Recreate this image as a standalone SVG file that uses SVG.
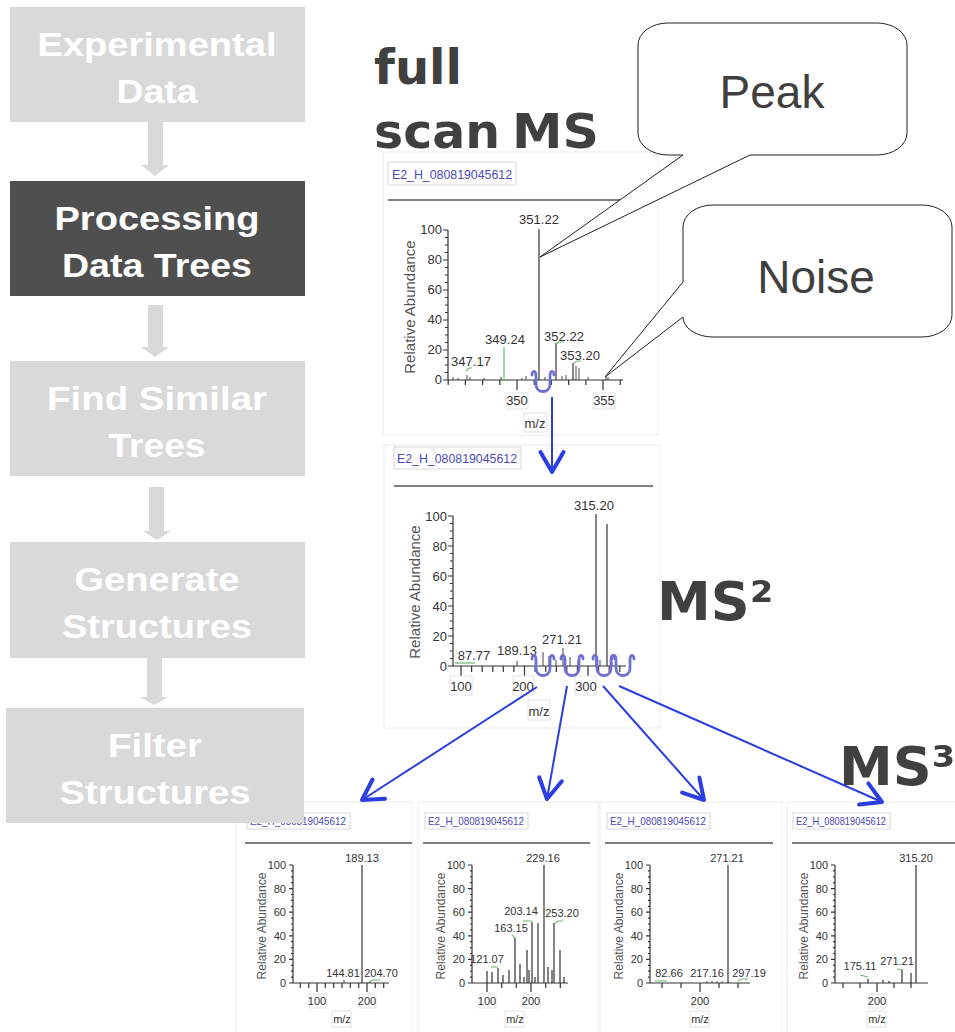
<svg xmlns="http://www.w3.org/2000/svg" xmlns:xlink="http://www.w3.org/1999/xlink" width="955" height="1032" viewBox="0 0 955 1032">
<style>
.bl{fill:#d9d9d9}
.bd{fill:#4f4f4f}
.st{font-family:"Liberation Sans",Arial,sans-serif;font-weight:bold;font-size:33px;fill:#fff;text-anchor:middle}
.sa{fill:#d9d9d9}
.hd{font-family:"DejaVu Sans",Verdana,sans-serif;font-weight:bold;fill:#404040}
.co{fill:#fff;stroke:#222;stroke-width:1}
.ct{font-family:"Liberation Sans",Arial,sans-serif;font-size:46px;fill:#404040;text-anchor:middle}
.pn{fill:#fff;stroke:#ececec}
.tb{fill:#fff;stroke:#d8d8d8}
.lb{fill:none;stroke:#dcdcdc;stroke-width:0.8}
.tt{font-family:"Liberation Sans",Arial,sans-serif;fill:#4a4ab8}
.hl{stroke:#555;stroke-width:1.5}
.ax{stroke:#333;stroke-width:1.2;fill:none}
.t13{font-family:"Liberation Sans",Arial,sans-serif;font-size:13px;fill:#333;text-anchor:middle}
.t11{font-family:"Liberation Sans",Arial,sans-serif;font-size:11px;fill:#333;text-anchor:middle}
.yl13{font-family:"Liberation Sans",Arial,sans-serif;font-size:13px;fill:#333;text-anchor:end}
.yl11{font-family:"Liberation Sans",Arial,sans-serif;font-size:11px;fill:#333;text-anchor:end}
.ra{font-family:"Liberation Sans",Arial,sans-serif;fill:#555;text-anchor:middle}
.pk{stroke:#333;stroke-width:1.2;fill:none}
.ns{stroke:#444;stroke-width:1;fill:none}
.gr{stroke:#6cb86c;stroke-width:1.2;fill:none}
.cu{stroke:#6e70d2;stroke-width:2.8;fill:none;stroke-linecap:round}
.cn{stroke:#2b3ee0;stroke-width:2;fill:none}
</style>
<defs>
<marker id="ah" markerUnits="userSpaceOnUse" viewBox="-24 -15 28 30" refX="0" refY="0" markerWidth="28" markerHeight="30" orient="auto" overflow="visible">
<path d="M-20 -11.5L0 0L-20 11.5" fill="none" stroke="#2b3ee0" stroke-width="4" stroke-linecap="round" stroke-linejoin="round"/>
</marker>
<path id="ytB" class="ax" d="M0 0V-150M-5 0h5m-5 -30h5m-5 -30h5m-5 -30h5m-5 -30h5m-5 -30h5M-3 0m0 -7.5h3m-3 -7.5h3m-3 -7.5h3m-3 -7.5h3m-3 -7.5h3m-3 -7.5h3m-3 -7.5h3m-3 -7.5h3m-3 -7.5h3m-3 -7.5h3m-3 -7.5h3m-3 -7.5h3m-3 -7.5h3m-3 -7.5h3m-3 -7.5h3m-3 -7.5h3m-3 -7.5h3m-3 -7.5h3m-3 -7.5h3"/>
<path id="ytS" class="ax" d="M0 0V-118M-4 0h4m-4 -23.6h4m-4 -23.6h4m-4 -23.6h4m-4 -23.6h4m-4 -23.6h4M-2 0m0 -5.9h2m-2 -5.9h2m-2 -5.9h2m-2 -5.9h2m-2 -5.9h2m-2 -5.9h2m-2 -5.9h2m-2 -5.9h2m-2 -5.9h2m-2 -5.9h2m-2 -5.9h2m-2 -5.9h2m-2 -5.9h2m-2 -5.9h2m-2 -5.9h2m-2 -5.9h2m-2 -5.9h2m-2 -5.9h2m-2 -5.9h2"/>
<path id="curl" class="cu" d="M-11 -7C-11 -12 -7 -12 -7 -6V2C-7 12 7 12 7 2V-6C7 -12 11 -12 11 -7"/>
</defs>

<!-- spectra panels -->
<g id="spec-fullscan">
<rect class="pn" x="383" y="152" width="275" height="283"/>
<rect class="tb" x="388" y="162" width="128" height="23"/>
<text class="tt" x="392" y="179" font-size="13" textLength="120" lengthAdjust="spacingAndGlyphs">E2_H_080819045612</text>
<line class="hl" x1="388" y1="200" x2="650" y2="200"/>
<use href="#ytB" x="448" y="380"/>
<text class="yl13" x="442" y="234">100</text>
<text class="yl13" x="442" y="264">80</text>
<text class="yl13" x="442" y="294">60</text>
<text class="yl13" x="442" y="324">40</text>
<text class="yl13" x="442" y="354">20</text>
<text class="yl13" x="442" y="384">0</text>
<text class="ra" font-size="15" transform="translate(415 307) rotate(-90)">Relative Abundance</text>
<path class="ax" d="M448 380H623M448.2 380v5M465.4 380v5M482.6 380v5M499.8 380v5M517 380v10M534.2 380v5M551.4 380v5M568.6 380v5M585.8 380v5M603 380v10M620.2 380v5"/>
<rect class="lb" x="506" y="393" width="22" height="16"/>
<rect class="lb" x="593" y="393" width="22" height="16"/>
<rect class="lb" x="524" y="413" width="23" height="19"/>
<text class="t13" x="517" y="405">350</text>
<text class="t13" x="604" y="405">355</text>
<text class="t13" x="535" y="428">m/z</text>
<path class="ns" d="M453 380v-3M458 380v-2M467 380v-5M470 380v-3M484 380v-2M501 380v-3M522 380v-2M526 380v-4M545 380v-3M562 380v-4M566 380v-5M576 380v-14M579 380v-12M588 380v-3M606 380v-4M608 380v-3"/>
<line class="pk" x1="539" y1="229" x2="539" y2="380"/>
<line class="pk" x1="556" y1="343" x2="556" y2="380"/>
<line class="pk" x1="573" y1="363" x2="573" y2="380"/>
<line class="gr" x1="504" y1="347" x2="504" y2="380"/>
<path class="gr" d="M466 371l3 -3h3M556 344l3 -2h5M574 363l3 -2h4"/>
<text class="t13" x="539" y="224">351.22</text>
<text class="t13" x="505" y="344">349.24</text>
<text class="t13" x="471" y="366">347.17</text>
<text class="t13" x="564" y="341">352.22</text>
<text class="t13" x="580" y="360">353.20</text>
<use href="#curl" x="543" y="382"/>
</g>

<g id="spec-ms2">
<rect class="pn" x="384" y="445" width="276" height="283"/>
<rect class="tb" x="394" y="447" width="127" height="22"/>
<text class="tt" x="397" y="463" font-size="13" textLength="120" lengthAdjust="spacingAndGlyphs">E2_H_080819045612</text>
<line class="hl" x1="394" y1="486" x2="653" y2="486"/>
<use href="#ytB" x="453" y="666"/>
<text class="yl13" x="447" y="521">100</text>
<text class="yl13" x="447" y="551">80</text>
<text class="yl13" x="447" y="581">60</text>
<text class="yl13" x="447" y="611">40</text>
<text class="yl13" x="447" y="641">20</text>
<text class="yl13" x="447" y="671">0</text>
<text class="ra" font-size="15" transform="translate(420 592) rotate(-90)">Relative Abundance</text>
<path class="ax" d="M453 666H626M461 666v10M471.6 666v6M482.2 666v6M492.8 666v6M503.3 666v6M513.9 666v6M524.5 666v10M535.1 666v6M545.7 666v6M556.3 666v6M566.8 666v6M577.4 666v6M588 666v10M598.6 666v6M609.2 666v6M619.8 666v6"/>
<rect class="lb" x="450" y="676" width="22" height="19"/>
<rect class="lb" x="513" y="676" width="21" height="19"/>
<rect class="lb" x="575" y="676" width="21" height="19"/>
<rect class="lb" x="528" y="700" width="22" height="20"/>
<text class="t13" x="461" y="691">100</text>
<text class="t13" x="523" y="691">200</text>
<text class="t13" x="586" y="691">300</text>
<text class="t13" x="539" y="716">m/z</text>
<path class="ns" d="M517 666v-5M543 666v-14M549 666v-10M556 666v-6M563 666v-18M570 666v-9M578 666v-6M600 666v-6M612 666v-4"/>
<line class="pk" x1="596" y1="514" x2="596" y2="666"/>
<line class="pk" x1="607" y1="524" x2="607" y2="666"/>
<path class="gr" d="M455 663h20"/>
<text class="t13" x="594" y="510">315.20</text>
<text class="t13" x="562" y="644">271.21</text>
<text class="t13" x="517" y="655">189.13</text>
<text class="t13" x="474" y="660">87.77</text>
<use href="#curl" x="543" y="666"/>
<use href="#curl" x="572" y="666"/>
<use href="#curl" x="604" y="666"/>
<use href="#curl" x="623" y="666"/>
</g>

<g id="spec-ms3-a">
<rect class="pn" x="236" y="802" width="176" height="232"/>
<rect class="tb" x="247" y="813" width="103" height="16"/>
<text class="tt" x="250" y="825" font-size="10.5" textLength="96" lengthAdjust="spacingAndGlyphs">E2_H_080819045612</text>
<line class="hl" x1="245" y1="843" x2="412" y2="843"/>
<use href="#ytS" x="293" y="983"/>
<text class="yl11" x="286" y="869">100</text>
<text class="yl11" x="286" y="893">80</text>
<text class="yl11" x="286" y="916">60</text>
<text class="yl11" x="286" y="940">40</text>
<text class="yl11" x="286" y="963">20</text>
<text class="yl11" x="286" y="987">0</text>
<text class="ra" font-size="12" transform="translate(266 926) rotate(-90)">Relative Abundance</text>
<path class="ax" d="M293 983H389M300.3 983v5M308.7 983v5M317 983v9M325.3 983v5M333.7 983v5M342 983v5M350.3 983v5M358.7 983v5M367 983v9M375.3 983v5M383.7 983v5"/>
<rect class="lb" x="309" y="994" width="17" height="14"/>
<rect class="lb" x="359" y="994" width="17" height="14"/>
<rect class="lb" x="332" y="1011" width="19" height="16"/>
<text class="t11" x="317" y="1005">100</text>
<text class="t11" x="367" y="1005">200</text>
<text class="t11" x="342" y="1023">m/z</text>
<line class="pk" x1="362" y1="865" x2="362" y2="983"/>
<path class="ns" d="M344 983v-3M370 983v-2"/>
<path class="gr" d="M369 982l4 -2h7"/>
<text class="t11" x="362" y="862">189.13</text>
<text class="t11" x="343" y="977">144.81</text>
<text class="t11" x="381" y="977">204.70</text>
</g>

<g id="spec-ms3-b">
<rect class="pn" x="418" y="802" width="180" height="232"/>
<rect class="tb" x="425" y="813" width="103" height="16"/>
<text class="tt" x="428" y="825" font-size="10.5" textLength="96" lengthAdjust="spacingAndGlyphs">E2_H_080819045612</text>
<line class="hl" x1="423" y1="843" x2="590" y2="843"/>
<use href="#ytS" x="472" y="983"/>
<text class="yl11" x="465" y="869">100</text>
<text class="yl11" x="465" y="893">80</text>
<text class="yl11" x="465" y="916">60</text>
<text class="yl11" x="465" y="940">40</text>
<text class="yl11" x="465" y="963">20</text>
<text class="yl11" x="465" y="987">0</text>
<text class="ra" font-size="12" transform="translate(445 926) rotate(-90)">Relative Abundance</text>
<path class="ax" d="M472 983H568M487 983v9M501.7 983v5M516.3 983v5M531 983v9M545.7 983v5M560.3 983v5"/>
<rect class="lb" x="479" y="994" width="17" height="14"/>
<rect class="lb" x="523" y="994" width="17" height="14"/>
<rect class="lb" x="505" y="1011" width="19" height="16"/>
<text class="t11" x="487" y="1005">100</text>
<text class="t11" x="531" y="1005">200</text>
<text class="t11" x="515" y="1023">m/z</text>
<path class="pk" d="M487 983v-12M492 983v-11M498 983v-15M503 983v-8M509 983v-13M515 983v-45M520 983v-19M524 983v-6M527 983v-33M529 983v-13M532 983v-61M535 983v-6M538 983v-60M544 983v-118M548 983v-16M552 983v-13M554 983v-60M560 983v-33M564 983v-6"/>
<path class="gr" d="M491 967h7M512 935l3 3M523 921h9M555 923l3 -2h5"/>
<text class="t11" x="543" y="862">229.16</text>
<text class="t11" x="521" y="915">203.14</text>
<text class="t11" x="562" y="917">253.20</text>
<text class="t11" x="511" y="932">163.15</text>
<text class="t11" x="487" y="963">121.07</text>
</g>

<g id="spec-ms3-c">
<rect class="pn" x="600" y="802" width="182" height="232"/>
<rect class="tb" x="607" y="813" width="103" height="16"/>
<text class="tt" x="610" y="825" font-size="10.5" textLength="96" lengthAdjust="spacingAndGlyphs">E2_H_080819045612</text>
<line class="hl" x1="605" y1="843" x2="773" y2="843"/>
<use href="#ytS" x="650" y="983"/>
<text class="yl11" x="643" y="869">100</text>
<text class="yl11" x="643" y="893">80</text>
<text class="yl11" x="643" y="916">60</text>
<text class="yl11" x="643" y="940">40</text>
<text class="yl11" x="643" y="963">20</text>
<text class="yl11" x="643" y="987">0</text>
<text class="ra" font-size="12" transform="translate(623 926) rotate(-90)">Relative Abundance</text>
<path class="ax" d="M650 983H750M662 983v5M681 983v5M700 983v9M719 983v5M738 983v5"/>
<rect class="lb" x="692" y="994" width="17" height="14"/>
<rect class="lb" x="690" y="1011" width="19" height="16"/>
<text class="t11" x="700" y="1005">200</text>
<text class="t11" x="700" y="1023">m/z</text>
<line class="pk" x1="728" y1="865" x2="728" y2="983"/>
<path class="ns" d="M707 983v-2M712 983v-2M717 983v-2M722 983v-2"/>
<path class="gr" d="M655 981h12M738 981l4 -2h6"/>
<text class="t11" x="727" y="862">271.21</text>
<text class="t11" x="669" y="977">82.66</text>
<text class="t11" x="707" y="977">217.16</text>
<text class="t11" x="749" y="977">297.19</text>
</g>

<g id="spec-ms3-d">
<rect class="pn" x="787" y="802" width="170" height="232"/>
<rect class="tb" x="793" y="813" width="97" height="16"/>
<text class="tt" x="796" y="825" font-size="10.5" textLength="90" lengthAdjust="spacingAndGlyphs">E2_H_080819045612</text>
<line class="hl" x1="792" y1="843" x2="955" y2="843"/>
<use href="#ytS" x="835" y="983"/>
<text class="yl11" x="828" y="869">100</text>
<text class="yl11" x="828" y="893">80</text>
<text class="yl11" x="828" y="916">60</text>
<text class="yl11" x="828" y="940">40</text>
<text class="yl11" x="828" y="963">20</text>
<text class="yl11" x="828" y="987">0</text>
<text class="ra" font-size="12" transform="translate(808 926) rotate(-90)">Relative Abundance</text>
<path class="ax" d="M835 983H928M843 983v5M860 983v5M877 983v9M894 983v5M911 983v5"/>
<rect class="lb" x="869" y="994" width="17" height="14"/>
<rect class="lb" x="867" y="1011" width="19" height="16"/>
<text class="t11" x="877" y="1005">200</text>
<text class="t11" x="877" y="1023">m/z</text>
<line class="pk" x1="916" y1="865" x2="916" y2="983"/>
<path class="pk" d="M868 983v-4M883 983v-3M902 983v-13M911 983v-10M889 983v-2"/>
<path class="gr" d="M860 975l8 2M897 969l6 1"/>
<text class="t11" x="916" y="862">315.20</text>
<text class="t11" x="860" y="970" font-size="10.5">175.11</text>
<text class="t11" x="897" y="965" font-size="10.5">271.21</text>
</g>

<!-- headings -->
<g id="label-fullscan">
<text class="hd" x="374" y="84" font-size="48" textLength="88" lengthAdjust="spacingAndGlyphs">full</text>
<text class="hd" x="374" y="148" font-size="48" textLength="126" lengthAdjust="spacingAndGlyphs">scan</text>
<text class="hd" x="512" y="148" font-size="48" textLength="87" lengthAdjust="spacingAndGlyphs">MS</text>
</g>
<g id="label-ms2"><text class="hd" x="657" y="620" font-size="54">MS²</text></g>
<g id="label-ms3"><text class="hd" x="839" y="785" font-size="54">MS³</text></g>

<!-- callouts -->
<g id="callout-peak">
<path class="co" d="M668 23H877A30 22 0 0 1 907 45V133A30 22 0 0 1 877 155H750L540 257L683 155H668A30 22 0 0 1 638 133V45A30 22 0 0 1 668 23Z"/>
<text class="ct" x="772" y="108">Peak</text>
</g>
<g id="callout-noise">
<path class="co" d="M713 205H922A30 22 0 0 1 952 227V315A30 22 0 0 1 922 337H713A30 20 0 0 1 683 317L605 377L683 282V227A30 22 0 0 1 713 205Z"/>
<text class="ct" x="816" y="293">Noise</text>
</g>

<!-- workflow steps -->
<g id="step-experimental">
<rect class="bl" x="10" y="7" width="295" height="115"/>
<text class="st" x="157" y="56" textLength="239" lengthAdjust="spacingAndGlyphs">Experimental</text>
<text class="st" x="157" y="103" textLength="81" lengthAdjust="spacingAndGlyphs">Data</text>
</g>
<g id="step-processing">
<rect class="bd" x="10" y="181" width="295" height="115"/>
<text class="st" x="157" y="230" textLength="205" lengthAdjust="spacingAndGlyphs">Processing</text>
<text class="st" x="157" y="277" textLength="190" lengthAdjust="spacingAndGlyphs">Data Trees</text>
</g>
<g id="step-find">
<rect class="bl" x="10" y="361" width="295" height="115"/>
<text class="st" x="157" y="410" textLength="220" lengthAdjust="spacingAndGlyphs">Find Similar</text>
<text class="st" x="157" y="457" textLength="97" lengthAdjust="spacingAndGlyphs">Trees</text>
</g>
<g id="step-generate">
<rect class="bl" x="10" y="542" width="295" height="116"/>
<text class="st" x="157" y="591" textLength="165" lengthAdjust="spacingAndGlyphs">Generate</text>
<text class="st" x="157" y="638" textLength="190" lengthAdjust="spacingAndGlyphs">Structures</text>
</g>
<g id="step-filter">
<rect class="bl" x="6" y="708" width="298" height="115"/>
<text class="st" x="155" y="757" textLength="94" lengthAdjust="spacingAndGlyphs">Filter</text>
<text class="st" x="155" y="804" textLength="191" lengthAdjust="spacingAndGlyphs">Structures</text>
</g>

<!-- connectors -->
<g id="connectors">
<polygon class="sa" points="148,122 163,122 163,165 169,165 155,176 141,165 148,165"/>
<polygon class="sa" points="148,305 163,305 163,347 169,347 155,357 141,347 148,347"/>
<polygon class="sa" points="149,487 164,487 164,531 171,531 157,540 143,531 149,531"/>
<polygon class="sa" points="147,658 162,658 162,697 168,697 154,705 140,697 147,697"/>
<line class="cn" x1="552" y1="397" x2="552" y2="472" marker-end="url(#ah)"/>
<line class="cn" x1="537" y1="687" x2="362" y2="800" marker-end="url(#ah)"/>
<line class="cn" x1="567" y1="686" x2="547" y2="799" marker-end="url(#ah)"/>
<line class="cn" x1="603" y1="686" x2="704" y2="800" marker-end="url(#ah)"/>
<line class="cn" x1="619" y1="686" x2="882" y2="802" marker-end="url(#ah)"/>
</g>
</svg>
